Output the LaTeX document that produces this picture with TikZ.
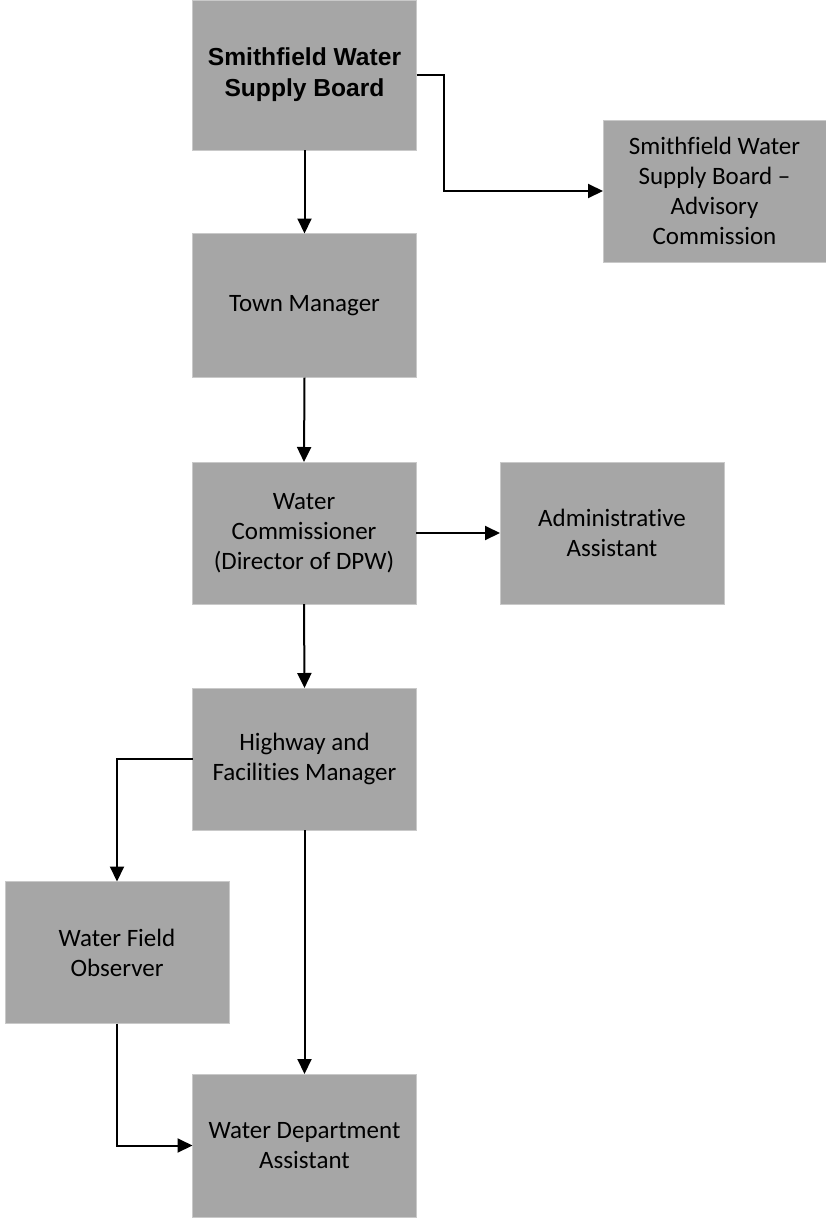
\documentclass[tikz,border=0pt]{standalone}
\usepackage{fontspec}
\setmainfont{Carlito}[Ligatures={NoCommon}]
\newfontfamily\boldarial{Liberation Sans}
\usetikzlibrary{arrows.meta}
\definecolor{boxfill}{HTML}{A6A6A6}
\definecolor{boxedge}{HTML}{C9C9C9}
\tikzset{
  orgbox/.style={rectangle, draw=boxedge, line width=0.8pt, fill=boxfill,
    inner sep=0pt, outer sep=0pt, minimum width=224pt, minimum height=142pt,
    align=center, font=\fontsize{25}{30}\selectfont, text=black},
  link/.style={draw=black, line width=2pt,
    -{Triangle[length=15pt,width=14pt]}}
}
\begin{document}
\begin{tikzpicture}[x=1pt,y=-1pt]
\useasboundingbox (0,0) rectangle (826,1218);
\node[orgbox, minimum height=150pt, font=\boldarial\bfseries\fontsize{24.6}{31}\selectfont] (top) at (304.5,75) {Smithfield Water\\Supply Board};
\node[orgbox, minimum width=223pt] (adv) at (714.5,191) {Smithfield Water\\Supply Board --\\Advisory\\Commission};
\node[orgbox, minimum height=144pt] (tm) at (304.5,305.5) {Town Manager};
\node[orgbox] (wc) at (304,533) {Water\\Commissioner\\(Director of DPW)};
\node[orgbox] (adm) at (612,533) {Administrative\\Assistant};
\node[orgbox] (hw) at (304.5,759) {Highway and\\Facilities Manager};
\node[orgbox] (wfo) at (117,952.5) {Water Field\\Observer};
\node[orgbox, minimum height=143pt] (wda) at (304.5,1145.5) {Water Department\\Assistant};

\draw[link] (top.south) -- (tm.north);
\draw[link] (top.east) -- ++(27,0) |- (adv.west);
\draw[link] (tm.south) -- (wc.north);
\draw[link] (wc.east) -- (adm.west);
\draw[link] (wc.south) -- (hw.north);
\draw[link] (hw.west) -| (wfo.north);
\draw[link] (hw.south) -- (wda.north);
\draw[link] (wfo.south) |- (wda.west);
\end{tikzpicture}
\end{document}
